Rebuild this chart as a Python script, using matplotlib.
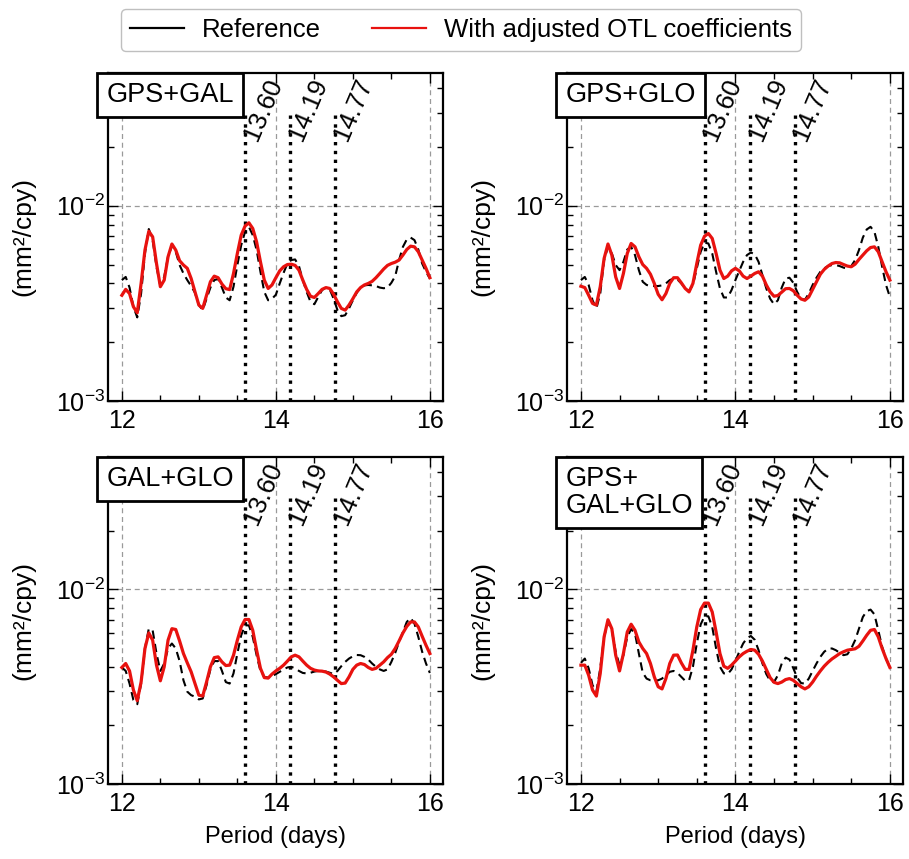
"""Spectra of GNSS coordinate residuals near the fortnightly tidal band."""

import numpy as np
from matplotlib import pyplot as plt
from matplotlib.lines import Line2D
from matplotlib.ticker import LogLocator, MultipleLocator, NullFormatter

plt.rcParams['font.family'] = ['Liberation Sans', 'DejaVu Sans']
plt.rcParams['mathtext.fontset'] = 'custom'
plt.rcParams['mathtext.rm'] = 'Liberation Sans'
plt.rcParams['mathtext.it'] = 'Liberation Sans:italic'
plt.rcParams['axes.unicode_minus'] = True

# Period axis sampling (days).
PERIOD = np.linspace(12.0, 16.0, 81)

# Power values are read in units of 1e-3 mm^2/cpy.
UNIT = 1e-3

PANEL_NAMES = ["GPS+GAL", "GPS+GLO", "GAL+GLO", "GPS+\nGAL+GLO"]
TIDE_PERIODS = [13.60, 14.19, 14.77]

GPS_GAL_REF = [
    4.16, 4.32, 3.81, 3.04, 2.68, 3.55, 5.70, 7.60, 6.67, 4.87,
    3.88, 4.32, 5.48, 6.22, 5.81, 4.97, 4.50, 4.16, 3.88, 3.58,
    3.10, 2.92, 3.34, 3.81, 4.16, 4.22, 3.81, 3.39, 3.28, 3.85,
    4.97, 6.28, 7.36, 7.80, 7.07, 5.93, 4.59, 3.62, 3.28, 3.34,
    3.50, 4.00, 4.53, 5.06, 5.27, 5.31, 4.91, 4.16, 3.62, 3.22,
    3.13, 3.41, 3.70, 3.81, 3.73, 3.34, 2.92, 2.72, 2.75, 2.98,
    3.28, 3.58, 3.81, 3.91, 3.93, 3.91, 3.88, 3.81, 3.78, 3.81,
    4.03, 4.36, 5.27, 6.16, 6.72, 6.87, 6.67, 5.97, 5.06, 4.59,
    4.24]
GPS_GAL_OTL = [
    3.48, 3.73, 3.55, 3.04, 2.83, 4.00, 5.93, 7.40, 6.93, 5.06,
    3.85, 4.16, 5.48, 6.37, 5.93, 5.23, 4.97, 4.78, 4.24, 3.62,
    3.10, 2.98, 3.48, 4.08, 4.36, 4.28, 3.97, 3.76, 3.72, 4.50,
    5.70, 7.07, 7.87, 8.18, 7.65, 6.53, 5.16, 4.16, 3.77, 3.93,
    4.28, 4.64, 4.87, 5.00, 5.02, 4.95, 4.68, 4.16, 3.73, 3.44,
    3.39, 3.55, 3.73, 3.81, 3.77, 3.52, 3.22, 2.98, 2.92, 3.10,
    3.34, 3.62, 3.81, 3.93, 4.00, 4.10, 4.28, 4.50, 4.74, 4.95,
    5.06, 5.14, 5.27, 5.59, 5.97, 6.21, 6.16, 5.81, 5.27, 4.78,
    4.28]

GPS_GLO_REF = [
    4.16, 4.32, 3.93, 3.28, 2.98, 3.55, 5.27, 6.16, 5.70, 4.97,
    4.68, 5.16, 5.97, 6.16, 5.59, 4.68, 4.08, 3.93, 3.88, 3.88,
    3.88, 3.91, 4.00, 4.16, 4.24, 4.19, 4.00, 3.77, 3.67, 3.93,
    4.78, 5.81, 6.47, 6.41, 5.70, 4.59, 3.77, 3.39, 3.39, 3.70,
    4.16, 4.64, 5.16, 5.59, 5.76, 5.65, 5.16, 4.41, 3.77, 3.34,
    3.13, 3.28, 3.81, 4.24, 4.28, 4.03, 3.62, 3.34, 3.30, 3.55,
    3.93, 4.28, 4.59, 4.78, 4.91, 4.97, 4.97, 4.91, 4.82, 4.76,
    4.91, 5.27, 5.93, 6.87, 7.56, 7.80, 7.36, 6.16, 4.87, 3.93,
    3.41]
GPS_GLO_OTL = [
    3.87, 3.81, 3.48, 3.16, 3.10, 3.85, 5.37, 6.37, 5.59, 4.32,
    3.77, 4.50, 5.70, 6.41, 6.16, 5.48, 5.00, 4.78, 4.46, 4.00,
    3.52, 3.30, 3.55, 4.00, 4.28, 4.28, 4.03, 3.77, 3.62, 4.00,
    5.06, 6.28, 6.98, 7.21, 6.80, 5.70, 4.68, 4.24, 4.36, 4.64,
    4.78, 4.64, 4.36, 4.24, 4.36, 4.50, 4.59, 4.36, 3.93, 3.62,
    3.44, 3.47, 3.61, 3.76, 3.77, 3.67, 3.48, 3.33, 3.28, 3.41,
    3.73, 4.08, 4.46, 4.72, 4.91, 5.06, 5.12, 5.10, 5.00, 4.91,
    4.87, 5.02, 5.31, 5.59, 5.88, 6.11, 6.16, 5.81, 5.16, 4.59,
    4.16]

GAL_GLO_REF = [
    3.97, 3.81, 3.28, 2.70, 2.57, 3.28, 4.97, 6.28, 6.16, 4.68,
    3.81, 4.16, 4.97, 5.27, 4.97, 4.28, 3.41, 2.98, 2.86, 2.81,
    2.72, 2.75, 3.22, 3.88, 4.28, 4.28, 3.81, 3.34, 3.28, 3.70,
    4.68, 5.81, 6.53, 6.53, 5.70, 4.59, 3.81, 3.55, 3.52, 3.58,
    3.67, 3.77, 3.88, 3.97, 4.00, 3.93, 3.81, 3.72, 3.70, 3.73,
    3.78, 3.81, 3.81, 3.78, 3.73, 3.67, 3.81, 4.03, 4.24, 4.41,
    4.53, 4.60, 4.59, 4.50, 4.36, 4.16, 4.00, 3.88, 3.81, 3.88,
    4.24, 4.72, 5.37, 6.04, 6.80, 7.13, 6.67, 5.70, 4.78, 4.16,
    3.72]
GAL_GLO_OTL = [
    3.97, 4.16, 3.81, 3.04, 2.68, 3.34, 4.97, 5.97, 5.48, 4.08,
    3.39, 4.00, 5.48, 6.28, 6.22, 5.43, 4.68, 4.19, 3.77, 3.28,
    2.86, 2.83, 3.34, 4.00, 4.46, 4.50, 4.24, 4.06, 4.08, 4.59,
    5.48, 6.41, 7.00, 7.00, 6.16, 4.87, 3.93, 3.52, 3.50, 3.67,
    3.81, 3.93, 4.08, 4.28, 4.50, 4.59, 4.50, 4.28, 4.08, 3.93,
    3.85, 3.81, 3.80, 3.76, 3.67, 3.55, 3.41, 3.28, 3.30, 3.55,
    3.88, 4.08, 4.16, 4.11, 3.97, 3.88, 3.93, 4.08, 4.24, 4.46,
    4.64, 4.97, 5.43, 5.97, 6.45, 6.80, 6.80, 6.41, 5.74, 5.16,
    4.68]

ALL_REF = [
    4.19, 4.41, 3.93, 3.22, 2.98, 3.93, 5.70, 6.80, 6.16, 4.78,
    4.08, 4.59, 5.70, 6.25, 5.93, 4.68, 3.73, 3.48, 3.41, 3.40,
    3.41, 3.48, 3.62, 3.77, 3.81, 3.72, 3.55, 3.39, 3.41, 4.00,
    5.27, 6.60, 7.27, 7.27, 6.41, 4.97, 4.00, 3.70, 3.67, 3.88,
    4.28, 4.78, 5.27, 5.62, 5.76, 5.51, 4.87, 4.16, 3.67, 3.39,
    3.34, 3.62, 4.16, 4.46, 4.36, 3.93, 3.52, 3.30, 3.28, 3.48,
    3.81, 4.16, 4.50, 4.78, 4.95, 4.97, 4.87, 4.72, 4.59, 4.64,
    4.97, 5.48, 6.28, 7.21, 7.73, 7.87, 7.44, 6.16, 5.06, 4.41,
    3.97]
ALL_OTL = [
    4.08, 4.08, 3.62, 3.04, 2.83, 3.70, 5.70, 6.98, 6.28, 4.59,
    3.81, 4.68, 6.04, 6.62, 6.16, 5.37, 4.97, 4.68, 4.16, 3.55,
    3.16, 3.08, 3.48, 4.16, 4.59, 4.60, 4.19, 3.88, 3.88, 4.87,
    6.41, 7.87, 8.50, 8.50, 7.65, 6.04, 4.68, 4.03, 3.93, 4.08,
    4.28, 4.50, 4.68, 4.81, 4.91, 4.87, 4.64, 4.28, 3.88, 3.52,
    3.33, 3.28, 3.34, 3.44, 3.48, 3.41, 3.28, 3.16, 3.08, 3.16,
    3.34, 3.58, 3.81, 4.03, 4.22, 4.39, 4.53, 4.68, 4.78, 4.87,
    4.91, 4.95, 5.10, 5.43, 5.81, 6.16, 6.22, 5.70, 4.97, 4.41,
    3.97]

REF_SERIES = [GPS_GAL_REF, GPS_GLO_REF, GAL_GLO_REF, ALL_REF]
OTL_SERIES = [GPS_GAL_OTL, GPS_GLO_OTL, GAL_GLO_OTL, ALL_OTL]

# Axes rectangles in figure fraction: left, bottom, width, height.
COLS = [(0.1188, 0.3685), (0.6238, 0.3696)]
ROWS = [(0.5332, 0.3818), (0.0873, 0.3807)]

TICK_FONT = 18
YMAX = 10 ** -1.32


def style_axes(axes):
    """Log y axis, ticks inside on every side, dashed grid at major ticks."""
    axes.set_yscale("log")
    axes.set_xlim(11.82, 16.17)
    axes.set_ylim(1e-3, YMAX)
    axes.set_xticks([12, 14, 16])
    axes.xaxis.set_minor_locator(MultipleLocator(0.5))
    axes.yaxis.set_major_locator(LogLocator(base=10, numticks=10))
    axes.yaxis.set_minor_locator(LogLocator(base=10, subs=np.arange(2, 10),
                                            numticks=20))
    axes.yaxis.set_minor_formatter(NullFormatter())
    axes.tick_params(which="both", direction="in", top=True, right=True,
                     labelsize=TICK_FONT, width=1.0)
    axes.tick_params(which="major", length=7)
    axes.tick_params(which="minor", length=4.5)
    axes.tick_params(axis="x", pad=6)
    axes.tick_params(axis="y", pad=2)
    axes.grid(True, which="major", linestyle=(0, (4, 3)), color="#9a9a9a",
              linewidth=0.9)
    for spine in axes.spines.values():
        spine.set_linewidth(1.6)
    axes.set_ylabel("(mm²/cpy)", fontsize=19, labelpad=15)


fig = plt.figure(figsize=(9.09, 8.59), dpi=100)

for idx, name in enumerate(PANEL_NAMES):
    row, col = divmod(idx, 2)
    left, width = COLS[col]
    bottom, height = ROWS[row]
    ax = fig.add_axes([left, bottom, width, height])
    style_axes(ax)

    ref = np.array(REF_SERIES[idx]) * UNIT
    otl = np.array(OTL_SERIES[idx]) * UNIT
    ax.plot(PERIOD, ref, color="black", linestyle=(0, (4, 2.5)),
            linewidth=1.5, zorder=3)
    ax.plot(PERIOD, otl, color="#e8120f", linewidth=2.3, zorder=4)

    for period in TIDE_PERIODS:
        ax.vlines(period, 1e-3, 0.030, colors="black", linestyles=":",
                  linewidth=2.4, zorder=2)
        ax.text(period + 0.15, 0.0212, "%.2f" % period, fontsize=18.5,
                rotation=67, rotation_mode="anchor", ha="left",
                va="baseline", zorder=5)

    ax.text(-0.004, 0.973, name, transform=ax.transAxes, fontsize=19.5,
            ha="left", va="top", linespacing=1.05, zorder=6,
            bbox=dict(boxstyle="square,pad=0.34", facecolor="white",
                      edgecolor="black", linewidth=2.0))
    if row == 1:
        ax.set_xlabel("Period (days)", fontsize=17, labelpad=7)

handles = [Line2D([], [], color="black", linewidth=1.6),
           Line2D([], [], color="#e8120f", linewidth=1.6)]
fig.legend(handles, ["Reference", "With adjusted OTL coefficients"],
           loc="center", bbox_to_anchor=(0.507, 0.965), ncol=2,
           fontsize=18.5, frameon=True, fancybox=True, edgecolor="#b0b0b0",
           handlelength=2.1, columnspacing=2.0, handletextpad=0.7,
           borderpad=0.35, borderaxespad=0.0)

fig.savefig("out.png", dpi=100)
